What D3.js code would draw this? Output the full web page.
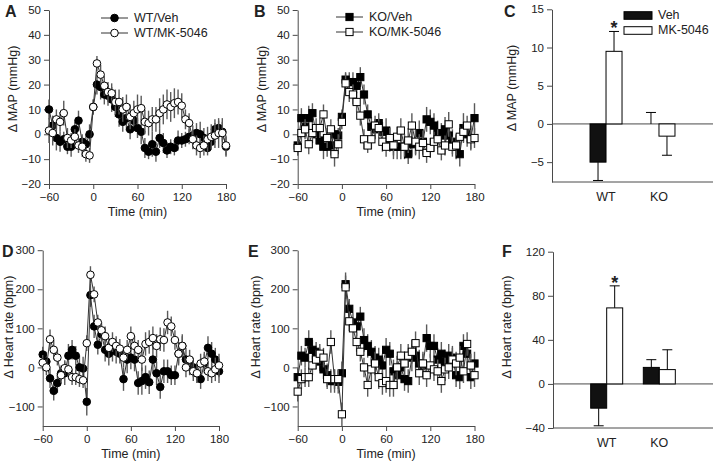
<!DOCTYPE html>
<html><head><meta charset="utf-8">
<script src="https://cdn.jsdelivr.net/npm/d3@7"></script>
<style>body{margin:0;background:#fff}svg{display:block;font-family:"Liberation Sans",Arial,sans-serif}</style>
</head><body>
<svg id="c" width="713" height="466"></svg>
<script>
const times = [-60,-55,-50,-45,-40,-35,-30,-25,-20,-15,-10,-5,0,5,10,15,20,25,30,35,40,45,50,55,60,65,70,75,80,85,90,95,100,105,110,115,120,125,130,135,140,145,150,155,160,165,170,175,180];
const timeTicks = [-60,0,60,120,180];

// Panel A: WT MAP
const mapWtVeh = [10,3.5,-1.5,-3,-2,-5,-5,2,5.5,-3,-4,0, 11,20,19,16,15.5,14,11,8,5,6.5,2,5.5, 2.5,1,-5.5,-7,-4,-7,-1.5,-3.5,-6.5,-5,-5.5, -2.5,-2.5,-2,-1,-0.5,0.5,0,-1.5,-5.5,-3,2,2.5,1,-5];
const mapWtVehErr = [4,4,5,4,3,3,4,3,4,3,4,4,3,4,5,4,4,5,4,5,4,5,4,4,4,5,4,3,5,4,4,4,3,3,3,4,3,3,3,4,4,5,4,3,3,4,3,4,4];
const mapWtMk = [1.5,0.5,6,5,8.5,-1.5,-2.5,-1,-4.5,-5,-8,-8.5, 11,28.5,24,19.5,17,16.5,13,13,10,11,7,8.5, 10,10.5,5,4.5,6,6,8.5,10,12,11,12.5, 13,11.5,6,4.5,-2,-4.5,-5.5,-4.5,-2,-1,-0.5,0.5,0.5,-4.5];
const mapWtMkErr = [5,5,4,4,5,4,3,3,3,4,3,3,3,3,4,4,4,4,5,5,5,5,5,5,6,5,5,5,5,5,6,6,6,6,6,5,5,4,4,4,4,4,4,5,5,5,6,6,4];

// Panel B: KO MAP
const mapKoVeh = [-4.5,6.5,3,6.5,8.5,0,-2.5,-5,-5,-4.5,0,-0.5, 7,22,21,21,19.5,23,16,8,3,2,4.5,1, 1.5,-2,-5,-5,-5,-5,-8,-4,-3.5,0.5,-3, 6,5,3.5,0.5,-0.5,2,-0.5,-3,-5,-8,2.5,0,-1.5,6.5];
const mapKoVehErr = [4,4,4,5,4,4,4,5,4,4,3,3,3,3,4,4,3,4,4,4,4,4,4,4,5,5,5,5,5,5,4,5,5,5,5,5,5,5,5,5,5,5,5,5,5,6,5,5,6];
const mapKoMk = [-5.5,0.5,2,-4,0.5,2.5,2.5,8,-1.5,2,-8,-4, 5,20.5,17,16,13,7.5,-2,-4.5,-2,3.5,2.5,-3, -5,-1.5,-4.5,-1,1.5,-5,-2.5,3.5,-3,-5,-3.5, -7.5,-5.5,-3,-2,-6.5,-4.5,4,-5,-4.5,-1,1,3.5,-2,-1.5];
const mapKoMkErr = [3,4,4,4,4,4,4,4,4,4,5,4,3,4,4,4,4,4,4,3,4,4,4,4,4,4,4,4,5,4,5,5,5,5,5,4,4,4,4,4,4,5,4,4,4,4,4,4,4];

// Panel D: WT heart rate
const hrWtVeh = [33,15,-28,-60,-40,-15,-15,30,45,30,0,-3, -88,185,105,58,85,45,35,45,40,35,-30,20, 25,20,-40,-35,-25,-38,20,-15,-50,-10,-10, -20,-20,35,55,20,5,0,-15,-30,10,50,35,20,-10];
const hrWtVehErr = [20,25,25,25,25,20,30,30,25,25,30,30,35,30,30,25,25,30,30,30,30,25,30,35,30,30,30,35,30,30,35,30,30,30,30,25,25,30,30,30,25,25,25,25,25,30,30,30,30];
const hrWtMk = [12,0,72,45,25,-20,-2,-5,-25,-25,-30,-33, 62,237,187,115,95,80,50,65,55,48,25,45, 80,55,45,20,60,65,75,55,72,70,115, 105,70,35,55,0,20,-10,-15,10,15,-10,-15,-5,5];
const hrWtMkErr = [20,20,25,25,20,20,20,20,20,20,20,20,20,22,20,20,20,25,25,25,25,25,25,25,25,25,25,30,30,30,30,30,30,30,30,25,25,25,25,25,25,25,25,25,25,25,25,30,30];

// Panel E: KO heart rate
const hrKoVeh = [-25,30,25,65,45,40,15,-5,-20,-35,-35,-37, -15,213,150,115,105,130,70,55,40,25,20,5, 45,35,-10,-20,0,-30,-35,25,30,10,5, 75,55,55,20,35,15,30,25,-20,-25,55,35,-25,10];
const hrKoVehErr = [25,25,25,30,25,25,25,25,30,30,30,30,30,30,25,25,25,25,30,30,30,30,30,30,30,30,30,35,30,30,30,35,35,35,30,35,30,30,30,30,30,30,30,30,30,30,35,30,30];
const hrKoMk = [-62,-30,-25,-25,5,20,35,25,-30,65,-30,-30, -120,205,118,100,65,40,0,-45,-5,10,-25,-40, -35,-45,-45,0,30,10,30,40,62,-15,10, -20,5,-5,-10,-35,-5,0,20,10,25,-10,60,5,-20];
const hrKoMkErr = [25,25,25,25,25,25,25,25,25,30,25,25,30,30,25,25,25,25,25,30,30,30,30,30,30,30,30,30,30,30,30,30,30,30,30,30,30,30,30,30,30,30,30,30,30,30,30,30,30];

// Panels C and F: summary bars
const groups = ["WT","KO"];
const barSeries = ["Veh","MK-5046"];
const mapVeh = [-5.0, 0.0], mapVehErr = [2.4, 1.5];
const mapMk = [9.5, -1.6], mapMkErr = [2.6, 2.5];
const hrVeh = [-22, 15], hrVehErr = [16, 7];
const hrMk = [69, 13], hrMkErr = [20, 18];
const mapTicks = [-5,0,5,10,15];
const hrBarTicks = [-40,0,40,80,120];
const mapSeriesTicks = [-20,-10,0,10,20,30,40,50];
const hrSeriesTicks = [-100,0,100,200,300];

const svg = d3.select("#c");
const AX = "#4a4a4a", TXT = "#222";

function label(x, y, t, opts={}) {
  return svg.append("text").attr("x", x).attr("y", y).text(t)
    .attr("font-size", opts.size || 12).attr("fill", opts.fill || TXT)
    .attr("font-weight", opts.bold ? "bold" : null)
    .attr("text-anchor", opts.anchor || "start")
    .attr("dominant-baseline", opts.base || "middle")
    .attr("transform", opts.rot ? `rotate(-90,${x},${y})` : null);
}

function styleAxis(g) {
  g.select(".domain").attr("stroke", AX).attr("stroke-width", 1);
  g.selectAll(".tick line").attr("stroke", AX);
  g.selectAll(".tick text").attr("fill", TXT).attr("font-size", 11.5).attr("font-family", "Liberation Sans, Arial, sans-serif");
}

function marker(sel, shape, filled) {
  if (shape === "circle") {
    sel.append("circle").attr("r", 3.8);
  } else {
    sel.append("rect").attr("x", -3.6).attr("y", -3.6).attr("width", 7.2).attr("height", 7.2);
  }
  sel.selectAll("circle,rect").attr("fill", filled ? "#000" : "#fff").attr("stroke", "#000").attr("stroke-width", 1);
}

function seriesPanel(cfg) {
  const x = d3.scaleLinear().domain([-60,180]).range(cfg.xr);
  const y = d3.scaleLinear().domain(cfg.yd).range(cfg.yr);
  const gy = svg.append("g").attr("transform", `translate(${cfg.xr[0]},0)`)
    .call(d3.axisLeft(y).tickValues(cfg.yt).tickSize(5).tickPadding(3).tickSizeOuter(0));
  styleAxis(gy);
  const gx = svg.append("g").attr("transform", `translate(0,${cfg.yr[0]})`)
    .call(d3.axisBottom(x).tickValues(timeTicks).tickSize(5).tickPadding(4).tickSizeOuter(0));
  styleAxis(gx);
  const g = svg.append("g");
  const line = d3.line().x((d,i) => x(times[i])).y(d => y(d));
  cfg.series.forEach(s => {
    const gs = g.append("g");
    gs.selectAll("line.err").data(s.v).join("line").attr("class","err")
      .attr("x1",(d,i)=>x(times[i])).attr("x2",(d,i)=>x(times[i]))
      .attr("y1",(d,i)=>y(d - s.e[i])).attr("y2",(d,i)=>y(d + s.e[i]))
      .attr("stroke","#5a5a5a").attr("stroke-width",1.4);
    gs.append("path").datum(s.v).attr("d", line).attr("fill","none").attr("stroke","#333").attr("stroke-width",1);
    gs.selectAll("g.m").data(s.v).join("g").attr("class","m")
      .attr("transform",(d,i)=>`translate(${x(times[i])},${y(d)})`)
      .call(sel => marker(sel, cfg.shape, s.filled));
  });
  label((cfg.xr[0]+cfg.xr[1])/2, cfg.yr[0]+29, "Time (min)", {anchor:"middle", size:12.5});
  label(cfg.ylx, cfg.yly, cfg.ytitle, {anchor:"middle", rot:true, size:12.5});
  label(cfg.lx, cfg.ly, cfg.letter, {bold:true, size:16, base:"alphabetic"});
  if (cfg.legend) {
    cfg.legend.forEach((lg, i) => {
      const ly = cfg.legY + i*15;
      svg.append("line").attr("x1", cfg.legX).attr("x2", cfg.legX+27).attr("y1", ly).attr("y2", ly).attr("stroke","#333");
      svg.append("g").attr("transform", `translate(${cfg.legX+13.5},${ly})`).call(sel => marker(sel, cfg.shape, lg.filled));
      label(cfg.legX+33, ly+0.5, lg.name, {size:12.5});
    });
  }
}

seriesPanel({xr:[49,226], yd:[-20,50], yr:[184,10], yt:mapSeriesTicks, shape:"circle",
  series:[{v:mapWtVeh,e:mapWtVehErr,filled:true},{v:mapWtMk,e:mapWtMkErr,filled:false}],
  ytitle:"\u0394 MAP (mmHg)", ylx:14, yly:89, letter:"A", lx:5, ly:17,
  legend:[{name:"WT/Veh",filled:true},{name:"WT/MK-5046",filled:false}], legX:101, legY:18});
seriesPanel({xr:[297.7,474.5], yd:[-20,50], yr:[184,10], yt:mapSeriesTicks, shape:"square",
  series:[{v:mapKoVeh,e:mapKoVehErr,filled:true},{v:mapKoMk,e:mapKoMkErr,filled:false}],
  ytitle:"\u0394 MAP (mmHg)", ylx:263, yly:89, letter:"B", lx:254, ly:17,
  legend:[{name:"KO/Veh",filled:true},{name:"KO/MK-5046",filled:false}], legX:336, legY:17});
seriesPanel({xr:[42.7,219], yd:[-150,300], yr:[426,250.2], yt:hrSeriesTicks, shape:"circle",
  series:[{v:hrWtVeh,e:hrWtVehErr,filled:true},{v:hrWtMk,e:hrWtMkErr,filled:false}],
  ytitle:"\u0394 Heart rate (bpm)", ylx:10, yly:327, letter:"D", lx:2, ly:257});
seriesPanel({xr:[297.7,474.5], yd:[-150,300], yr:[426,250.2], yt:hrSeriesTicks, shape:"square",
  series:[{v:hrKoVeh,e:hrKoVehErr,filled:true},{v:hrKoMk,e:hrKoMkErr,filled:false}],
  ytitle:"\u0394 Heart rate (bpm)", ylx:257, yly:327, letter:"E", lx:248, ly:257});

function barPanel(cfg) {
  const x = d3.scalePoint().domain(groups).range([cfg.x0, 713]).padding(1.02);
  const y = d3.scaleLinear().domain(cfg.yd).range(cfg.yr);
  const gy = svg.append("g").attr("transform", `translate(${cfg.x0},0)`)
    .call(d3.axisLeft(y).tickValues(cfg.yt).tickSize(5).tickPadding(3).tickSizeOuter(0));
  styleAxis(gy);
  svg.append("line").attr("x1", cfg.x0).attr("x2", 713).attr("y1", y(cfg.yd[0])).attr("y2", y(cfg.yd[0])).attr("stroke", AX);
  svg.append("line").attr("x1", cfg.x0).attr("x2", 713).attr("y1", y(0)).attr("y2", y(0)).attr("stroke", AX);
  const bw = 16;
  const sets = [{v:cfg.veh, e:cfg.vehErr, fill:"#111", off:-1}, {v:cfg.mk, e:cfg.mkErr, fill:"#fff", off:0}];
  sets.forEach(s => {
    groups.forEach((gname, i) => {
      const xl = x(gname) + s.off*bw;
      const v = s.v[i], e = s.e[i];
      const tip = v >= 0 ? v + e : v - e;
      const cx = xl + bw/2;
      svg.append("line").attr("x1", cx).attr("x2", cx).attr("y1", y(v)).attr("y2", y(tip)).attr("stroke","#000");
      svg.append("line").attr("x1", cx-5).attr("x2", cx+5).attr("y1", y(tip)).attr("y2", y(tip)).attr("stroke","#000");
      if (Math.abs(v) > 0.01) {
        svg.append("rect").attr("x", xl).attr("width", bw)
          .attr("y", y(Math.max(0,v))).attr("height", Math.abs(y(v)-y(0)))
          .attr("fill", s.fill).attr("stroke", "#000").attr("stroke-width", 1);
      }
    });
  });
  const sx = x("WT") + bw/2;
  label(sx, y(cfg.mk[0] + cfg.mkErr[0]) + 3, "*", {anchor:"middle", bold:true, size:18, base:"alphabetic"});
  groups.forEach(gname => label(x(gname), cfg.catY, gname, {anchor:"middle", size:12.5}));
  label(cfg.ylx, cfg.yly, cfg.ytitle, {anchor:"middle", rot:true, size:12.5});
  label(cfg.lx, cfg.ly, cfg.letter, {bold:true, size:16, base:"alphabetic"});
  if (cfg.legend) {
    barSeries.forEach((n, i) => {
      svg.append("rect").attr("x", 624).attr("y", 11.7 + i*15).attr("width", 28).attr("height", 7.6)
        .attr("fill", i === 0 ? "#111" : "#fff").attr("stroke", "#000");
      label(658, 15.5 + i*15, n, {size:12.5});
    });
  }
}

barPanel({x0:552, yd:[-7.6,15], yr:[182,9.3], yt:mapTicks, veh:mapVeh, vehErr:mapVehErr, mk:mapMk, mkErr:mapMkErr,
  catY:198, ytitle:"\u0394 MAP (mmHg)", ylx:513, yly:88, letter:"C", lx:504, ly:17, legend:true});
barPanel({x0:553, yd:[-40,120], yr:[428,251.7], yt:hrBarTicks, veh:hrVeh, vehErr:hrVehErr, mk:hrMk, mkErr:hrMkErr,
  catY:444, ytitle:"\u0394 Heart rate (bpm)", ylx:508, yly:327, letter:"F", lx:502, ly:257});
</script>
</body></html>
